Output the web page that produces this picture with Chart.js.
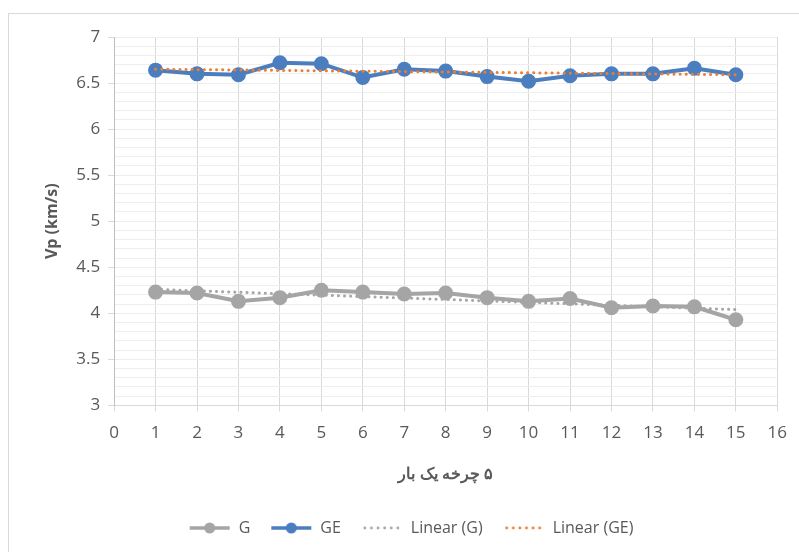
<!DOCTYPE html>
<html>
<head>
<meta charset="utf-8">
<script src="https://cdn.jsdelivr.net/npm/chart.js@4.4.0/dist/chart.umd.min.js"></script>
<style>
  body { margin: 0; background: #fff; }
  #wrap { position: relative; width: 799px; height: 552px; }
  #frame { position: absolute; left: 8px; top: 13px; width: 800px; height: 560px; border: 1px solid #d9d9d9; }
</style>
</head>
<body>
<div id="wrap">
  <div id="frame"></div>
  <canvas id="chart" width="799" height="552"></canvas>
</div>
<script>
// datos
const cycles = [1, 2, 3, 4, 5, 6, 7, 8, 9, 10, 11, 12, 13, 14, 15];
const vpG = [4.23, 4.22, 4.13, 4.17, 4.25, 4.23, 4.21, 4.22, 4.17, 4.13, 4.16, 4.06, 4.08, 4.07, 3.93];
const vpGE = [6.64, 6.60, 6.59, 6.72, 6.71, 6.56, 6.65, 6.63, 6.57, 6.52, 6.58, 6.60, 6.60, 6.66, 6.59];
// extremos de las líneas de tendencia
const trendX = [1, 15];
const trendG = [4.26, 4.04];
const trendGE = [6.65, 6.59];

const xTitle = "\u202B۵ چرخه یک بار\u202C";
const yTitle = "Vp (km/s)";

const blue = "#4a7ebf";
const gray = "#a5a5a5";
const orange = "#ed7d31";
const font = "'Open Sans', sans-serif";

function toPoints(xs, ys) {
  return xs.map((x, i) => ({ x: x, y: ys[i] }));
}

// iconos de la leyenda (linea + punto o punteada)
function legendIcon(color, dotted) {
  const c = document.createElement("canvas");
  c.width = 42;
  c.height = 14;
  const ctx = c.getContext("2d");
  if (dotted) {
    ctx.fillStyle = color;
    for (let i = 0; i < 6; i++) {
      ctx.beginPath();
      ctx.arc(4 + i * 6.6, 7, 1.4, 0, Math.PI * 2);
      ctx.fill();
    }
  } else {
    ctx.strokeStyle = color;
    ctx.lineWidth = 3.5;
    ctx.beginPath();
    ctx.moveTo(1, 7);
    ctx.lineTo(41, 7);
    ctx.stroke();
    ctx.fillStyle = color;
    ctx.beginPath();
    ctx.arc(21, 7, 5.5, 0, Math.PI * 2);
    ctx.fill();
  }
  return c;
}

const icons = [legendIcon(gray, false), legendIcon(blue, false), legendIcon(gray, true), legendIcon(orange, true)];

const data = {
  datasets: [
    {
      label: "G",
      data: toPoints(cycles, vpG),
      borderColor: gray,
      backgroundColor: gray,
      borderWidth: 4,
      pointRadius: 5.5,
      order: 2,
    },
    {
      label: "GE",
      data: toPoints(cycles, vpGE),
      borderColor: blue,
      backgroundColor: blue,
      borderWidth: 4,
      pointRadius: 5.5,
      order: 2,
    },
    {
      label: "Linear (G)",
      data: toPoints(trendX, trendG),
      borderColor: gray,
      borderWidth: 3,
      borderDash: [0.1, 6],
      borderCapStyle: "round",
      pointRadius: 0,
      order: 1,
    },
    {
      label: "Linear (GE)",
      data: toPoints(trendX, trendGE),
      borderColor: orange,
      borderWidth: 3,
      borderDash: [0.1, 6],
      borderCapStyle: "round",
      pointRadius: 0,
      order: 1,
    },
  ],
};

const config = {
  type: "line",
  data,
  options: {
    responsive: false,
    animation: false,
    layout: { padding: { top: 37, left: 39, right: 16, bottom: 6 } },
    plugins: {
      tooltip: { enabled: false },
      legend: {
        position: "bottom",
        labels: {
          usePointStyle: true,
          pointStyleWidth: 42,
          color: "#595959",
          font: { family: font, size: 16 },
          padding: 20,
          generateLabels: (chart) =>
            chart.data.datasets.map((ds, i) => ({
              text: ds.label,
              pointStyle: icons[i],
              fontColor: "#595959",
              datasetIndex: i,
              hidden: false,
              lineWidth: 0,
            })),
        },
      },
    },
    scales: {
      x: {
        type: "linear",
        min: 0,
        max: 16,
        ticks: { stepSize: 1, color: "#595959", font: { family: font, size: 17 }, padding: 12 },
        grid: { color: "#d9d9d9", tickLength: 6 },
        border: { color: "#d9d9d9" },
        title: {
          display: true,
          text: xTitle,
          color: "#595959",
          font: { family: font, size: 16, weight: "bold" },
          padding: { top: 9, bottom: 16 },
        },
      },
      y: {
        min: 3,
        max: 7,
        ticks: {
          stepSize: 0.5,
          color: "#595959",
          font: { family: font, size: 17 },
          padding: 8,
          callback: (v) => String(+v.toFixed(1)),
        },
        grid: { color: "#d9d9d9", tickLength: 6 },
        border: { color: "#bfbfbf" },
        title: {
          display: true,
          text: yTitle,
          color: "#595959",
          font: { family: font, size: 16, weight: "bold" },
          padding: { bottom: 6 },
        },
      },
      yMinor: {
        position: "left",
        min: 3,
        max: 7,
        display: true,
        ticks: { stepSize: 0.1, display: false },
        grid: { color: "#eeeeee", drawTicks: false },
        border: { display: false },
      },
    },
  },
};

new Chart(document.getElementById("chart"), config);
</script>
</body>
</html>
